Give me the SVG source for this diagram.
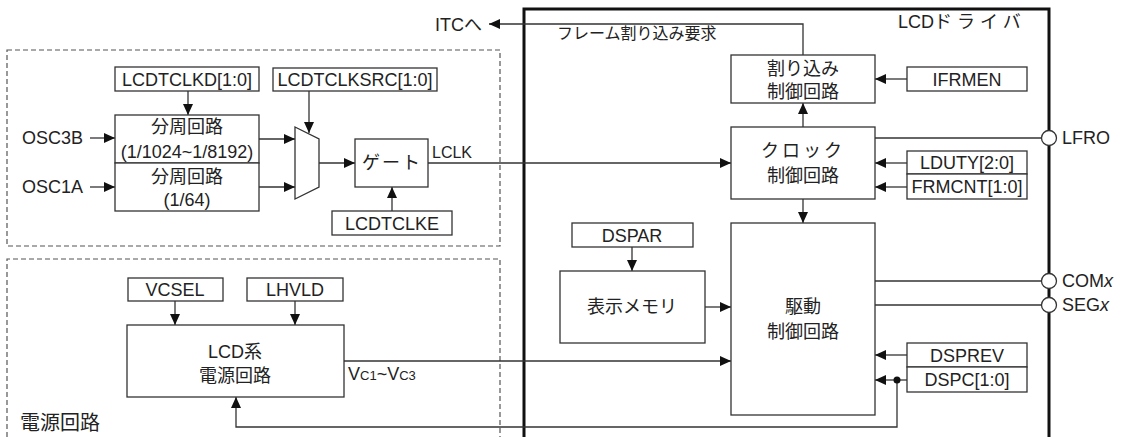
<svg xmlns="http://www.w3.org/2000/svg" width="1127" height="437" viewBox="0 0 1127 437">
<style>
text{font-family:"Liberation Sans","Noto Sans CJK JP",sans-serif;font-size:18px;fill:#222}
.c{text-anchor:middle}
.b{fill:#fff;stroke:#333;stroke-width:1.3}
.w{fill:none;stroke:#333;stroke-width:1.3}
.d{fill:none;stroke:#555;stroke-width:1.2;stroke-dasharray:5 3}
.t{fill:none;stroke:#111;stroke-width:3}
.p{fill:#fff;stroke:#333;stroke-width:1.3}
</style>
<defs>
<marker id="a" markerUnits="userSpaceOnUse" markerWidth="12" markerHeight="10" refX="11" refY="5" orient="auto"><path d="M0,0 L11,5 L0,10 z" fill="#111"/></marker>
</defs>
<g id="regions">
<rect class="d" x="7" y="50" width="493" height="196"/>
<path class="d" d="M7,437 V259 H500 V437"/>
<path class="t" d="M524,437 V9 H1049 V437"/>
<text x="898" y="28">LCD<tspan letter-spacing="5">ドライバ</tspan></text>
<text x="20" y="430" style="font-size:20px">電源回路</text>
</g>
<g id="connectors" class="w" marker-end="url(#a)">
<path d="M90,138 H115"/>
<path d="M90,187 H115"/>
<path d="M188,91 V115"/>
<path d="M259,139 H295"/>
<path d="M259,187 H295"/>
<path d="M309,91 V133"/>
<path d="M319,163 H355"/>
<path d="M392,211 V187"/>
<path d="M428,163 H731"/>
<path d="M803,55 V24 H489"/>
<path d="M907,79 H875"/>
<path d="M803,127 V103"/>
<path d="M875,138 H1042" marker-end="none"/>
<path d="M907,163 H875"/>
<path d="M907,187 H875"/>
<path d="M803,199 V223"/>
<path d="M632,247 V271"/>
<path d="M705,307 H731"/>
<path d="M875,281 H1041" marker-end="none"/>
<path d="M875,305 H1041" marker-end="none"/>
<path d="M907,355 H875"/>
<path d="M907,380 H875"/>
<path d="M344,361 H731"/>
<path d="M897,380 V427 H236 V397"/>
<path d="M175,301 V325"/>
<path d="M295,301 V325"/>
<circle cx="897" cy="380" r="3.5" fill="#111" stroke="none" marker-end="none"/>
</g>
<g id="ITC"><text x="435" y="31">ITCへ</text></g>
<g id="frame-req"><text x="557" y="39" style="font-size:16px">フレーム割り込み要求</text></g>
<g id="LCDTCLKD"><rect class="b" x="115" y="67" width="144" height="24"/><text class="c" x="187" y="86">LCDTCLKD[1:0]</text></g>
<g id="LCDTCLKSRC"><rect class="b" x="273" y="68" width="164" height="23"/><text class="c" x="355" y="86">LCDTCLKSRC[1:0]</text></g>
<g id="OSC3B"><text x="22" y="144">OSC3B</text></g>
<g id="OSC1A"><text x="22" y="193">OSC1A</text></g>
<g id="div1"><rect class="b" x="115" y="115" width="144" height="48"/><text class="c" x="187" y="133">分周回路</text><text class="c" x="187" y="158">(1/1024~1/8192)</text></g>
<g id="div2"><rect class="b" x="115" y="163" width="144" height="48"/><text class="c" x="187" y="183">分周回路</text><text class="c" x="187" y="206">(1/64)</text></g>
<g id="mux"><polygon class="p" points="295,127 319,139 319,187 295,199"/></g>
<g id="gate"><rect class="b" x="355" y="139" width="73" height="48"/><text class="c" x="392" y="169" letter-spacing="2">ゲート</text></g>
<g id="LCDTCLKE"><rect class="b" x="332" y="211" width="120" height="24"/><text class="c" x="392" y="230">LCDTCLKE</text></g>
<g id="LCLK"><text x="432" y="158" style="font-size:16px">LCLK</text></g>
<g id="intctl"><rect class="b" x="731" y="55" width="144" height="48"/><text class="c" x="803" y="75">割り込み</text><text class="c" x="803" y="98">制御回路</text></g>
<g id="IFRMEN"><rect class="b" x="907" y="67" width="120" height="24"/><text class="c" x="967" y="86">IFRMEN</text></g>
<g id="clkctl"><rect class="b" x="731" y="127" width="144" height="72"/><text class="c" x="803" y="157" letter-spacing="3">クロック</text><text class="c" x="803" y="182">制御回路</text></g>
<g id="LDUTY"><rect class="b" x="907" y="151" width="120" height="23"/><text class="c" x="967" y="169">LDUTY[2:0]</text></g>
<g id="FRMCNT"><rect class="b" x="907" y="174" width="120" height="25"/><text class="c" x="967" y="193">FRMCNT[1:0]</text></g>
<g id="LFRO"><circle class="p" cx="1049" cy="138" r="7.5"/><text x="1062" y="144">LFRO</text></g>
<g id="DSPAR"><rect class="b" x="572" y="223" width="121" height="24"/><text class="c" x="632" y="242">DSPAR</text></g>
<g id="dispmem"><rect class="b" x="560" y="271" width="145" height="72"/><text class="c" x="632" y="313">表示メモリ</text></g>
<g id="drvctl"><rect class="b" x="731" y="223" width="144" height="192"/><text class="c" x="803" y="313">駆動</text><text class="c" x="803" y="338">制御回路</text></g>
<g id="COMx"><circle class="p" cx="1049" cy="281" r="7.5"/><text x="1062" y="287">COM<tspan font-style="italic">x</tspan></text></g>
<g id="SEGx"><circle class="p" cx="1049" cy="305" r="7.5"/><text x="1062" y="311">SEG<tspan font-style="italic">x</tspan></text></g>
<g id="DSPREV"><rect class="b" x="907" y="343" width="120" height="24"/><text class="c" x="967" y="362">DSPREV</text></g>
<g id="DSPC"><rect class="b" x="907" y="367" width="120" height="25"/><text class="c" x="967" y="386">DSPC[1:0]</text></g>
<g id="VCSEL"><rect class="b" x="128" y="278" width="95" height="23"/><text class="c" x="175" y="296">VCSEL</text></g>
<g id="LHVLD"><rect class="b" x="247" y="278" width="96" height="23"/><text class="c" x="295" y="296">LHVLD</text></g>
<g id="lcdpwr"><rect class="b" x="127" y="325" width="217" height="72"/><text class="c" x="235" y="358">LCD系</text><text class="c" x="235" y="382">電源回路</text></g>
<g id="Vc"><text x="348" y="380">V<tspan style="font-size:13px">C1</tspan>~V<tspan style="font-size:13px">C3</tspan></text></g>
</svg>
